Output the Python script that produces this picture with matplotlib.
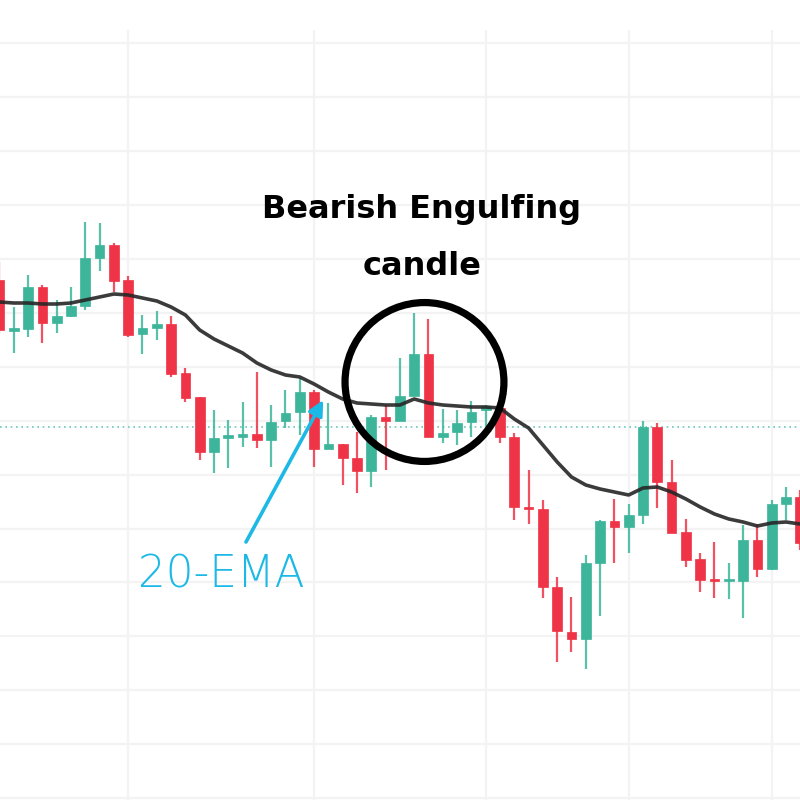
import matplotlib
matplotlib.use("Agg")
import matplotlib.pyplot as plt
from matplotlib.patches import Rectangle, Circle
import numpy as np

# ---- data (arbitrary price units) ----
opens = [152.0, 146.9, 147.1, 151.3, 147.7, 148.4, 149.4, 154.2, 155.5, 152.0,
         146.6, 147.2, 147.6, 142.7, 140.3, 134.8, 136.25, 136.3, 136.6, 136.0,
         137.9, 138.8, 140.8, 135.1, 135.6, 134.2, 132.9, 138.3, 137.9, 140.4,
         144.6, 136.3, 136.8, 137.8, 139.0, 139.2, 136.3, 129.3, 129.1, 121.3,
         116.8, 116.1, 123.7, 127.9, 127.3, 128.5, 137.3, 131.8, 126.8, 124.1,
         122.1, 121.9, 121.9, 126.0, 123.1, 129.6, 130.3]
highs = [153.8, 149.3, 152.5, 151.5, 150.0, 151.3, 157.8, 157.7, 155.7, 152.4,
         148.5, 148.9, 148.4, 143.2, 140.3, 139.0, 138.0, 139.8, 142.8, 139.5,
         141.0, 142.2, 141.0, 139.7, 135.6, 136.8, 138.5, 139.5, 144.2, 148.7,
         148.1, 139.1, 139.0, 139.9, 139.5, 139.5, 136.7, 133.0, 130.0, 122.3,
         120.3, 124.5, 128.0, 130.1, 129.6, 137.9, 137.7, 134.0, 128.1, 124.7,
         125.8, 123.7, 127.5, 127.6, 130.0, 131.3, 131.0]
lows = [146.7, 144.7, 146.3, 145.7, 146.7, 148.3, 149.0, 152.9, 150.8, 146.3,
        144.6, 146.0, 142.3, 139.8, 134.0, 132.7, 133.2, 135.3, 135.2, 133.3,
        137.2, 136.5, 133.3, 135.1, 131.5, 130.7, 131.3, 133.0, 137.9, 140.4,
        136.3, 135.7, 135.5, 136.3, 137.0, 135.7, 128.0, 127.6, 120.2, 113.8,
        114.8, 113.1, 118.4, 123.7, 124.7, 127.6, 129.2, 126.7, 123.3, 120.8,
        120.2, 120.1, 118.2, 122.3, 123.0, 128.0, 125.0]
closes = [147.0, 147.2, 151.3, 147.7, 148.4, 149.4, 154.2, 155.5, 151.9, 146.5,
          147.2, 147.6, 142.6, 140.2, 134.8, 136.2, 136.4, 136.6, 136.0, 137.8,
          138.7, 140.8, 135.1, 135.6, 134.2, 132.9, 138.3, 137.9, 140.4, 144.6,
          136.3, 136.7, 137.7, 138.8, 139.4, 136.3, 129.3, 129.1, 121.3, 116.9,
          116.1, 123.7, 127.9, 127.3, 128.5, 137.3, 131.8, 126.7, 124.0, 122.0,
          121.9, 122.1, 126.0, 123.1, 129.6, 130.3, 125.7]
ema20 = [149.8, 149.7, 149.7, 149.6, 149.6, 149.7, 150.0, 150.3, 150.6, 150.5,
         150.2, 149.9, 149.3, 148.5, 147.0, 146.1, 145.4, 144.7, 143.7, 143.0,
         142.5, 142.3, 141.6, 140.8, 140.1, 139.7, 139.6, 139.5, 139.5, 140.1,
         139.7, 139.5, 139.4, 139.3, 139.3, 139.2, 138.1, 137.2, 135.5, 133.8,
         132.3, 131.5, 131.1, 130.8, 130.5, 131.2, 131.3, 130.8, 130.1, 129.3,
         128.6, 128.1, 127.8, 127.4, 127.7, 127.8, 127.6]
session_breaks = [9, 22, 34, 44, 54]
price_gridlines = list(np.round(100.2 + 5.39 * np.arange(15), 2))
last_price = 137.3

title_lines = ["Bearish Engulfing", "candle"]
ema_label = "20-EMA"

GREEN = "#3db59b"
RED = "#ee3446"
CYAN = "#1cb8e6"

fig = plt.figure(figsize=(8, 8), dpi=100)
ax = fig.add_axes([0, 0, 1, 1])
ax.set_xlim(0.035, 55.98)
ax.set_ylim(100, 180)
ax.axis("off")

# grid
for p in price_gridlines:
    ax.axhline(p, color="#f3f3f3", lw=1.6, zorder=0)
ax.vlines(session_breaks, 100, 177, color="#f3f3f3", lw=1.6, zorder=0)

# last price dotted line
ax.axhline(last_price, color="#6cc9b8", lw=1.2, ls=(0, (1, 2.2)), zorder=1)

# candles
w = 0.68
for i, (o, h, l, c) in enumerate(zip(opens, highs, lows, closes)):
    col = GREEN if c >= o else RED
    ax.vlines(i, l, h, color=col, lw=1.6, alpha=0.85, zorder=2)
    lo, hi = min(o, c), max(o, c)
    hgt = max(hi - lo, 0.25)
    ax.add_patch(Rectangle((i - w / 2, lo), w, hgt, facecolor=col,
                           edgecolor=col, lw=0.5, zorder=3))

# EMA
ax.plot(range(len(ema20)), ema20, color="#262626", lw=2.6, alpha=0.9,
        solid_capstyle="round", solid_joinstyle="round", zorder=4)

# circle highlight
ax.add_patch(Circle((0.5306, 0.5225), 0.0993, transform=ax.transAxes,
                    fill=False, edgecolor="black", lw=5.2, zorder=6))

# annotation texts
ax.text(0.527, 0.7275, title_lines[0], transform=ax.transAxes, ha="center",
        va="baseline", fontsize=23, fontweight="bold",
        family="DejaVu Sans", color="black", zorder=7)
ax.text(0.527, 0.656, title_lines[1], transform=ax.transAxes, ha="center",
        va="baseline", fontsize=23, fontweight="bold",
        family="DejaVu Sans", color="black", zorder=7)

ax.text(0.1725, 0.266, ema_label, transform=ax.transAxes, ha="left",
        va="baseline", fontsize=31.5, fontweight="light", family="DejaVu Sans",
        color=CYAN, zorder=7)
ax.annotate("", xy=(0.404, 0.5), xycoords="axes fraction",
            xytext=(0.3075, 0.3225), textcoords="axes fraction",
            arrowprops=dict(arrowstyle="-|>,head_length=0.9,head_width=0.45",
                            color=CYAN, lw=2.6, shrinkA=0, shrinkB=0),
            zorder=7)

fig.savefig("out.png", dpi=100, facecolor="white")
